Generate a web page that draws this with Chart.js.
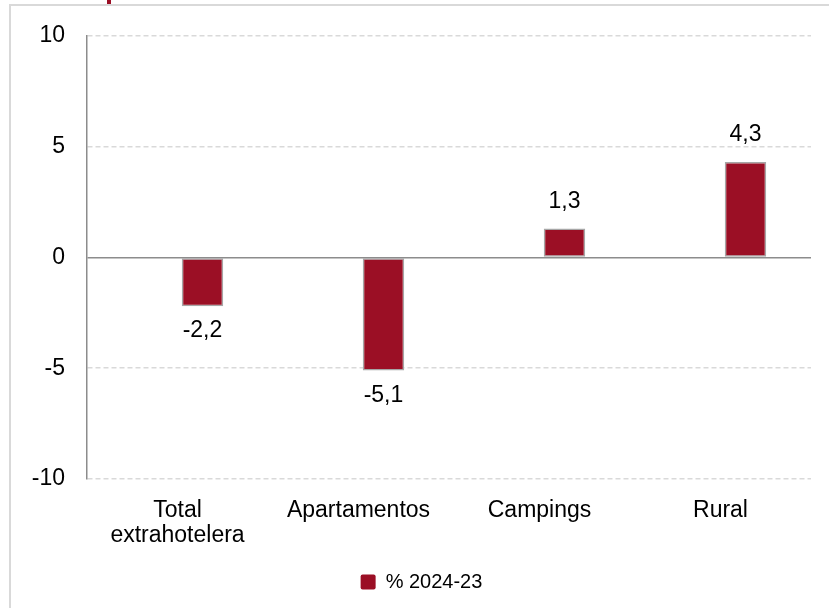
<!DOCTYPE html>
<html>
<head>
<meta charset="utf-8">
<script src="https://cdn.jsdelivr.net/npm/chart.js@4"></script>
<style>
  body { margin: 0; background: #fff; }
  #wrap { position: relative; width: 829px; height: 608px; overflow: hidden; }
  #frame { position: absolute; left: 9px; top: 4px; width: 830px; height: 620px; border: 2px solid #d9d9d9; box-sizing: border-box; }
  #mark { position: absolute; left: 107px; top: 0; width: 4px; height: 4px; background: #9b0f25; }
  canvas { position: absolute; left: 0; top: 0; }
</style>
</head>
<body>
<div id="wrap">
  <div id="frame"></div>
  <div id="mark"></div>
  <canvas id="barChart" width="829" height="608"></canvas>
</div>
<script>
const categories = [['Total', 'extrahotelera'], 'Apartamentos', 'Campings', 'Rural'];
const seriesName = '% 2024-23';
const values = [-2.2, -5.1, 1.3, 4.3];
// the source chart keeps an empty first series, which pushes the bars right of each label
const emptySeries = [null, null, null, null];
const yTicks = [10, 5, 0, -5, -10];

const font = "'Liberation Sans', Arial, sans-serif";

const valueLabels = {
    id: 'valueLabels',
    afterDatasetsDraw(chart) {
        const ctx = chart.ctx;
        const meta = chart.getDatasetMeta(1);
        ctx.save();
        ctx.font = '23px ' + font;
        ctx.fillStyle = '#000';
        ctx.textAlign = 'center';
        ctx.textBaseline = 'middle';
        meta.data.forEach((bar, i) => {
            const v = values[i];
            const txt = v.toFixed(1).replace('.', ',');
            const y = v >= 0 ? bar.y - 27 : bar.y + 25;
            ctx.fillText(txt, bar.x, y);
        });
        ctx.restore();
    }
};

const shiftLegend = {
    id: 'shiftLegend',
    afterLayout(chart) {
        chart.legend.left += 16;
        chart.legend.right += 16;
    }
};

const ctx1 = document.getElementById('barChart').getContext('2d');
new Chart(ctx1, {
    type: 'bar',
    data: {
        labels: categories,
        datasets: [{
            label: '',
            data: emptySeries,
            categoryPercentage: 0.552,
            barPercentage: 0.83
        }, {
            label: seriesName,
            data: values,
            backgroundColor: '#9b0f25',
            borderColor: '#a6a6a6',
            borderWidth: 1.5,
            borderSkipped: false,
            categoryPercentage: 0.552,
            barPercentage: 0.83
        }]
    },
    options: {
        responsive: false,
        animation: false,
        layout: { padding: { left: 0, right: 18, top: 32, bottom: 6 } },
        plugins: {
            legend: {
                position: 'bottom',
                labels: {
                    color: '#000',
                    font: { family: font, size: 20 },
                    boxWidth: 15,
                    boxHeight: 15,
                    padding: 10,
                    useBorderRadius: true,
                    borderRadius: 2,
                    filter: item => item.text !== '',
                    generateLabels: chart => Chart.defaults.plugins.legend.labels.generateLabels(chart)
                        .map(l => Object.assign(l, { lineWidth: 0, strokeStyle: l.fillStyle }))
                }
            },
            tooltip: { enabled: false }
        },
        scales: {
            x: {
                grid: { display: false },
                border: { display: false },
                ticks: {
                    color: '#000',
                    font: { family: font, size: 23, lineHeight: '25px' },
                    padding: 11,
                    maxRotation: 0,
                    autoSkip: false
                },
                afterFit(scale) { scale.height = 83; }
            },
            y: {
                min: -10,
                max: 10,
                afterBuildTicks(scale) { scale.ticks = yTicks.map(v => ({ value: v })); },
                grid: {
                    drawTicks: false,
                    lineWidth: 1.5,
                    color: c => (c.tick && c.tick.value === 0) ? '#8c8c8c' : '#d9d9d9'
                },
                border: {
                    color: '#8c8c8c',
                    width: 1.5,
                    dash: c => (c.tick && c.tick.value !== 0) ? [5, 3] : []
                },
                ticks: {
                    color: '#000',
                    font: { family: font, size: 23 },
                    padding: 22
                },
                afterFit(scale) { scale.width = 87; }
            }
        }
    },
    plugins: [valueLabels, shiftLegend]
});
</script>
</body>
</html>
